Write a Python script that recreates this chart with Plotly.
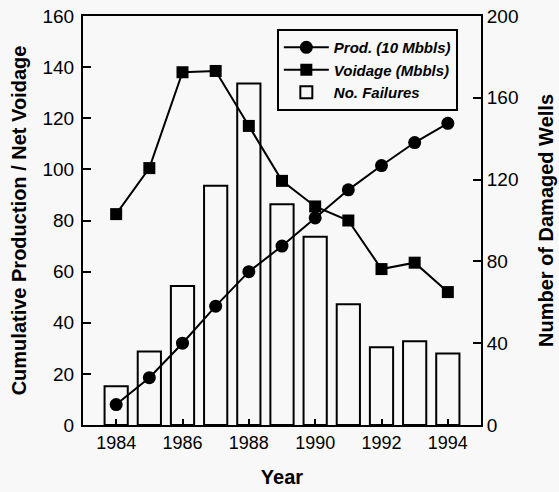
import plotly.graph_objects as go

years = [1984, 1985, 1986, 1987, 1988, 1989, 1990, 1991, 1992, 1993, 1994]
prod = [8, 18.5, 32, 46.5, 60, 70, 81, 92, 101.5, 110.5, 118]
voidage = [82.5, 100.5, 138, 138.5, 117, 95.5, 85.5, 80, 61, 63.5, 52]
failures = [19, 36, 68, 117, 167, 108, 92, 59, 38, 41, 35]

BG = "#f7f8f7"
FONT = "Liberation Sans"

fig = go.Figure()
fig.add_trace(go.Bar(
    x=years, y=failures, name="No. Failures", width=0.7,
    marker=dict(color=BG, line=dict(color="black", width=2)),
    yaxis="y", legendrank=3,
))
fig.add_trace(go.Scatter(
    x=years, y=prod, name="Prod. (10 Mbbls)", mode="lines+markers",
    line=dict(color="black", width=2),
    marker=dict(symbol="circle", size=13, color="black"),
    yaxis="y2", legendrank=1,
))
fig.add_trace(go.Scatter(
    x=years, y=voidage, name="Voidage (Mbbls)", mode="lines+markers",
    line=dict(color="black", width=2),
    marker=dict(symbol="square", size=12, color="black"),
    yaxis="y2", legendrank=2,
))

xtickfont = dict(family=FONT, size=18, color="black")
ytickfont = dict(family=FONT, size=19, color="black")
titlefont = dict(family=FONT, size=20, color="black", weight="bold")

fig.update_layout(
    width=559, height=492,
    margin=dict(l=83, r=78, t=16, b=67),
    paper_bgcolor=BG, plot_bgcolor=BG,
    showlegend=True,
    legend=dict(
        x=0.487, y=0.968, xanchor="left", yanchor="top",
        bgcolor=BG, bordercolor="black", borderwidth=2,
        font=dict(family=FONT, size=15, color="black", style="italic", weight="bold"),
        tracegroupgap=0, itemwidth=45,
    ),
    xaxis=dict(
        range=[1983, 1995], tickmode="array", tickvals=[1984, 1986, 1988, 1990, 1992, 1994],
        showline=True, linecolor="black", linewidth=2, mirror=True,
        ticks="inside", ticklen=6, tickwidth=1.5, tickcolor="black",
        showgrid=False, zeroline=False, tickfont=xtickfont, automargin=False,
        title=dict(text="Year", font=titlefont, standoff=18),
    ),
    yaxis=dict(
        side="right", range=[0, 200], dtick=40,
        showline=True, linecolor="black", linewidth=2,
        ticks="inside", ticklen=8, tickwidth=1.5, tickcolor="black",
        showgrid=False, zeroline=False, tickfont=ytickfont, automargin=False,
        title=dict(text="Number of Damaged Wells", font=titlefont, standoff=21),
    ),
    yaxis2=dict(
        side="left", overlaying="y", range=[0, 160], dtick=20,
        showline=True, linecolor="black", linewidth=2,
        ticks="inside", ticklen=8, tickwidth=1.5, tickcolor="black",
        showgrid=False, zeroline=False, tickfont=ytickfont, automargin=False,
        ticklabelstandoff=3,
        title=dict(text="Cumulative Production / Net Voidage", font=titlefont, standoff=10),
    ),
)

fig.write_html("out.html", config={"displayModeBar": False},
               post_script="document.body.style.margin='0';")
